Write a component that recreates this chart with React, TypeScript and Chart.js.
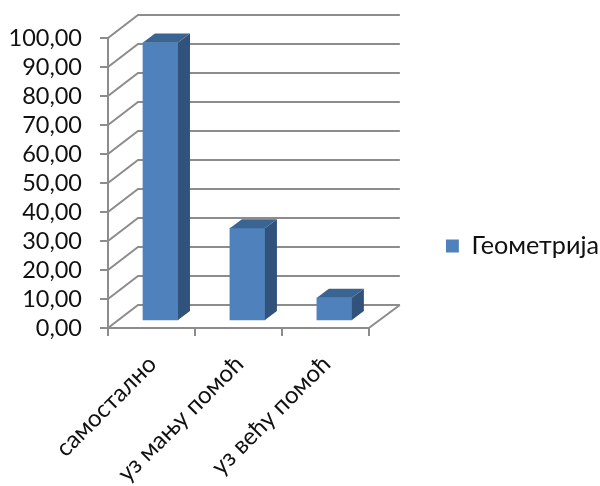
import React, { useEffect, useRef } from "react";
import { Chart, registerables } from "chart.js";

Chart.register(...registerables);

const categories = ["самостално", "уз мању помоћ", "уз већу помоћ"];
const seriesName = "Геометрија";
const values = [96, 32, 8];

const WALL_DX = 30;
const WALL_DY = 23;
const BAR_DX = 9;
const BAR_DY = 7;
const DEPTH_DX = 12;
const DEPTH_DY = 9;
const GRID = "#8c8c8c";
const BAR_COLOR = "#4f81bd";
const FONT = "Lato, 'Open Sans', sans-serif";

const walls3d = {
  id: "walls3d",
  beforeDatasetsDraw(chart: any) {
    const { ctx, scales } = chart;
    const xs = scales.x;
    const ys = scales.y;
    const l = xs.left;
    const r = xs.right;
    ctx.save();
    ctx.strokeStyle = GRID;
    ctx.lineWidth = 2;
    ys.ticks.forEach((t: any) => {
      const y = ys.getPixelForValue(t.value);
      ctx.beginPath();
      ctx.moveTo(l, y);
      ctx.lineTo(l + WALL_DX, y - WALL_DY);
      ctx.lineTo(r + WALL_DX + 1, y - WALL_DY);
      ctx.stroke();
    });
    const y0 = ys.getPixelForValue(0);
    ctx.beginPath();
    ctx.moveTo(r, y0);
    ctx.lineTo(r + WALL_DX + 1, y0 - WALL_DY);
    ctx.stroke();
    ctx.restore();
    ctx.save();
    ctx.translate(BAR_DX, -BAR_DY);
  },
  afterDatasetsDraw(chart: any) {
    const { ctx } = chart;
    chart.getDatasetMeta(0).data.forEach((b: any) => {
      const left = b.x - b.width / 2;
      const right = b.x + b.width / 2;
      ctx.fillStyle = "#31527b";
      ctx.beginPath();
      ctx.moveTo(right, b.y);
      ctx.lineTo(right + DEPTH_DX, b.y - DEPTH_DY);
      ctx.lineTo(right + DEPTH_DX, b.base - DEPTH_DY);
      ctx.lineTo(right, b.base);
      ctx.closePath();
      ctx.fill();
      ctx.fillStyle = "#3a6491";
      ctx.beginPath();
      ctx.moveTo(left, b.y);
      ctx.lineTo(left + DEPTH_DX, b.y - DEPTH_DY);
      ctx.lineTo(right + DEPTH_DX, b.y - DEPTH_DY);
      ctx.lineTo(right, b.y);
      ctx.closePath();
      ctx.fill();
    });
    ctx.restore();
  },
};

export default function App() {
  const ref = useRef<HTMLCanvasElement | null>(null);
  useEffect(() => {
    const chart = new Chart(ref.current as HTMLCanvasElement, {
      type: "bar",
      data: {
        labels: categories,
        datasets: [
          {
            label: seriesName,
            data: values,
            backgroundColor: BAR_COLOR,
            borderWidth: 0,
            barThickness: 35,
            yAxisID: "y",
          },
        ],
      },
      options: {
        responsive: false,
        animation: false,
        events: [],
        layout: { padding: { top: 6, bottom: 0, left: 0, right: -9 } },
        plugins: {
          tooltip: { enabled: false },
          legend: {
            position: "right",
            maxWidth: 180,
            labels: {
              boxWidth: 13,
              boxHeight: 13,
              padding: 0,
              color: "#111111",
              font: { family: FONT, size: 25.2 },
            },
          },
        },
        scales: {
          x: {
            afterFit: (a: any) => {
              a.height = 158;
            },
            grid: { drawOnChartArea: false, color: GRID, lineWidth: 2, tickLength: 8 },
            border: { color: GRID, width: 2 },
            ticks: {
              minRotation: 45,
              maxRotation: 45,
              autoSkip: false,
              color: "#111111",
              padding: 14,
              labelOffset: 1,
              font: { family: FONT, size: 24 },
            },
          },
          y: {
            min: 0,
            max: 100,
            afterFit: (a: any) => {
              a.width = 108;
            },
            grid: { drawOnChartArea: false, color: GRID, lineWidth: 2, tickLength: 8 },
            border: { color: GRID, width: 2 },
            ticks: {
              stepSize: 10,
              autoSkip: false,
              padding: 18,
              color: "#111111",
              font: { family: FONT, size: 23.5 },
              callback: (v: any) => Number(v).toFixed(2).replace(".", ","),
            },
          },
          spacer: {
            type: "linear",
            position: "right",
            display: true,
            afterFit: (a: any) => {
              a.width = 77;
            },
            grid: { display: false, drawOnChartArea: false },
            border: { display: false },
            ticks: { display: false },
          },
          topSpacer: {
            type: "category",
            position: "top",
            display: true,
            afterFit: (a: any) => {
              a.height = 32;
            },
            grid: { display: false, drawOnChartArea: false },
            border: { display: false },
            ticks: { display: false },
          },
        },
      },
      plugins: [walls3d],
    } as any);
    return () => chart.destroy();
  }, []);
  return (
    <div style={{ position: "fixed", left: 0, top: 0, width: 600, height: 486, background: "#fff" }}>
      <canvas ref={ref} width={600} height={486} style={{ display: "block" }} />
    </div>
  );
}
